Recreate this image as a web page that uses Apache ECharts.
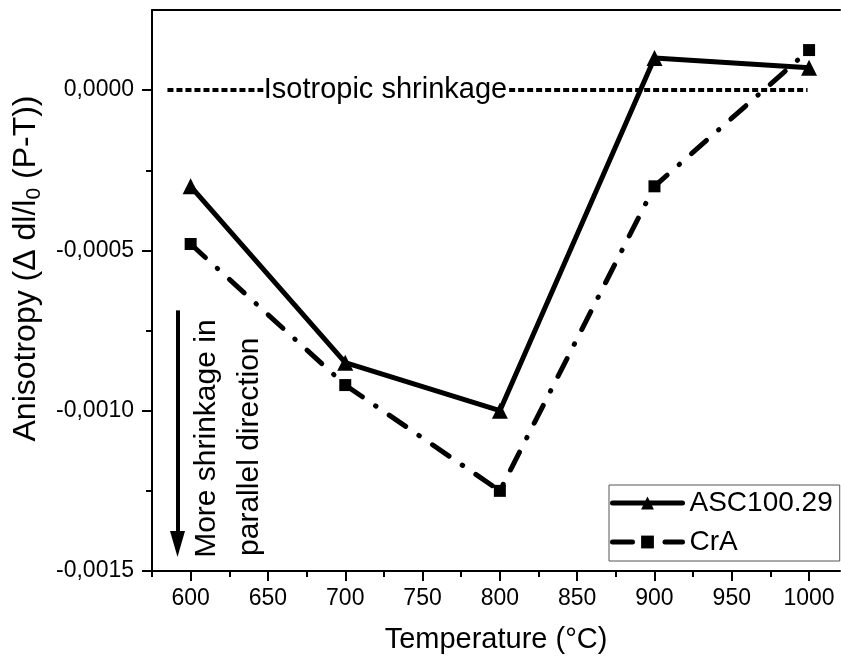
<!DOCTYPE html>
<html>
<head>
<meta charset="utf-8">
<script src="https://cdn.jsdelivr.net/npm/echarts@6/dist/echarts.min.js"></script>
<style>
  html, body { margin: 0; padding: 0; background: #fff; }
  #chart { width: 841px; height: 658px; }
</style>
</head>
<body>
<div id="chart"></div>
<script>
// Sintering anisotropy (P-T) vs. temperature
const temperatures = [600, 700, 800, 900, 1000];
const asc100Values = [-0.00030, -0.00085, -0.00100, 0.00010, 0.00007];
const craValues = [-0.00048, -0.00092, -0.00125, -0.00030, 0.000125];
const seriesNames = ['ASC100.29', 'CrA'];

const xMajorTicks = [600, 650, 700, 750, 800, 850, 900, 950, 1000];
const xMinorTicks = [575, 625, 675, 725, 775, 825, 875, 925, 975];
const yMajorTicks = [-0.0015, -0.0010, -0.0005, 0];
const yMinorTicks = [-0.00125, -0.00075, -0.00025];

const FONT = '"Liberation Sans", Arial, sans-serif';

const pairs = (xs, ys) => xs.map((x, i) => [x, ys[i]]);
const fmtY = v => v.toFixed(4).replace('.', ',');
const fmtX = v => String(Math.round(v));

const chart = echarts.init(document.getElementById('chart'), null, { renderer: 'canvas' });

const axisLine = { show: true, onZero: false, lineStyle: { color: '#000', width: 2 } };

const option = {
  backgroundColor: '#fff',
  animation: false,
  textStyle: { fontFamily: FONT, color: '#000' },
  grid: { left: 152, right: 1, top: 10, bottom: 87, containLabel: false, outerBoundsMode: 'none' },
  xAxis: [
    {
      type: 'value', min: 575, max: 1020, position: 'bottom',
      name: 'Temperature (°C)', nameLocation: 'middle', nameGap: 54,
      nameTextStyle: { fontSize: 29, fontFamily: FONT, color: '#000' },
      axisLine: axisLine,
      axisTick: { show: true, inside: false, length: 10, customValues: xMajorTicks, lineStyle: { color: '#000', width: 2 } },
      axisLabel: { show: true, customValues: xMajorTicks, formatter: fmtX, fontSize: 23, fontFamily: FONT, color: '#000', margin: 16 },
      splitLine: { show: false }
    },
    {
      type: 'value', min: 575, max: 1020, position: 'bottom',
      axisLine: { show: false, onZero: false },
      axisTick: { show: true, inside: false, length: 6, customValues: xMinorTicks, lineStyle: { color: '#000', width: 2 } },
      axisLabel: { show: false },
      splitLine: { show: false }
    },
    {
      type: 'value', min: 575, max: 1020, position: 'top',
      axisLine: axisLine,
      axisTick: { show: false },
      axisLabel: { show: false },
      splitLine: { show: false }
    }
  ],
  yAxis: [
    {
      type: 'value', min: -0.0015, max: 0.00025, position: 'left',
      name: 'Anisotropy (Δ dl/l{sub|0} (P-T))', nameLocation: 'middle', nameGap: 106, nameRotate: 90,
      nameTextStyle: {
        fontSize: 32, fontFamily: FONT, color: '#000', padding: [0, 0, 0, 44],
        rich: { sub: { fontSize: 21, fontFamily: FONT, color: '#000', verticalAlign: 'bottom', padding: [16, 0, 0, 0] } }
      },
      axisLine: axisLine,
      axisTick: { show: true, inside: false, length: 10, customValues: yMajorTicks, lineStyle: { color: '#000', width: 2 } },
      axisLabel: { show: true, customValues: yMajorTicks, formatter: fmtY, fontSize: 23, fontFamily: FONT, color: '#000', margin: 18 },
      splitLine: { show: false }
    },
    {
      type: 'value', min: -0.0015, max: 0.00025, position: 'left',
      axisLine: { show: false, onZero: false },
      axisTick: { show: true, inside: false, length: 6, customValues: yMinorTicks, lineStyle: { color: '#000', width: 2 } },
      axisLabel: { show: false },
      splitLine: { show: false }
    }
  ],
  legend: {
    data: seriesNames,
    left: 609, top: 485,
    orient: 'vertical',
    itemWidth: 70, itemHeight: 16, itemGap: 9,
    padding: [3, 7, 4, 1],
    borderColor: '#555', borderWidth: 1, backgroundColor: '#fff',
    lineStyle: { width: 5, type: 'inherit', cap: 'round' },
    textStyle: { fontSize: 28, fontFamily: FONT, color: '#000', lineHeight: 30, padding: [0, 0, 0, 2] }
  },
  series: [
    {
      name: seriesNames[0], type: 'line', xAxisIndex: 0, yAxisIndex: 0,
      data: pairs(temperatures, asc100Values),
      symbol: 'triangle', symbolSize: 16,
      itemStyle: { color: '#000' },
      lineStyle: { color: '#000', width: 5, type: 'solid' },
      z: 3
    },
    {
      name: seriesNames[1], type: 'line', xAxisIndex: 0, yAxisIndex: 0,
      data: pairs(temperatures, craValues),
      symbol: 'rect', symbolSize: 12,
      itemStyle: { color: '#000' },
      lineStyle: { color: '#000', width: 5, type: [20, 16, 0.5, 16], cap: 'round' },
      z: 4
    },
    {
      // dotted reference line at zero, split around its caption
      name: 'zeroLine', type: 'line', xAxisIndex: 0, yAxisIndex: 0,
      data: [], silent: true,
      markLine: {
        silent: true, animation: false, symbol: 'none',
        label: { show: false },
        lineStyle: { color: '#000', width: 4, type: [6, 3], opacity: 1 },
        emphasis: { disabled: true },
        data: [
          [{ coord: [585, 0] }, { coord: [647, 0] }],
          [{ coord: [806, 0] }, { coord: [999, 0] }]
        ]
      }
    },
    {
      // downward arrow: more shrinkage in parallel direction
      name: 'arrow', type: 'line', xAxisIndex: 0, yAxisIndex: 0,
      data: [], silent: true,
      markLine: {
        silent: true, animation: false,
        symbol: ['none', 'triangle'], symbolSize: [15, 26], symbolRotate: 180,
        label: { show: false },
        lineStyle: { color: '#000', width: 4, type: 'solid', opacity: 1 },
        emphasis: { disabled: true },
        data: [
          [{ coord: [591.5, -0.000687] }, { coord: [591.5, -0.001416] }]
        ]
      }
    }
  ]
};

chart.setOption(option);

// Text annotations placed in data coordinates
const px = (x, y) => chart.convertToPixel({ xAxisIndex: 0, yAxisIndex: 0 }, [x, y]);
const isoPos = px(726, 0);
const morePos = px(610.4, -0.001459);
const parPos = px(638.2, -0.001453);

const textEl = (pos, text, size, rotation, align) => ({
  type: 'text', x: pos[0], y: pos[1], rotation: rotation, z: 10,
  style: {
    text: text, font: size + 'px ' + FONT, fill: '#000',
    align: align, verticalAlign: 'middle',
    textAlign: align, textVerticalAlign: 'middle'
  }
});

chart.setOption({
  graphic: [
    textEl(isoPos, 'Isotropic shrinkage', 29, 0, 'center'),
    textEl(morePos, 'More shrinkage in', 30, Math.PI / 2, 'left'),
    textEl(parPos, 'parallel direction', 30, Math.PI / 2, 'left')
  ]
});
</script>
</body>
</html>
